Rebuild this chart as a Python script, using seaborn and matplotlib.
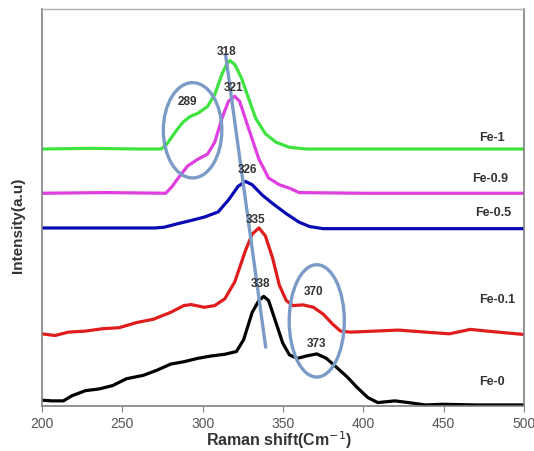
import matplotlib
matplotlib.use("Agg")
import matplotlib.pyplot as plt
from matplotlib.patches import Ellipse
import seaborn as sns
import pandas as pd

# ----------------------------------------------------------------------
# Raman spectra (intensity in arbitrary units,
# curves already stacked with their offsets)
# ----------------------------------------------------------------------
fe1_x = [200, 230, 260, 274, 277, 280, 284, 288, 292, 297, 303, 307.5, 312,
         315, 317, 320, 324, 328.5, 333, 339, 345.6, 354, 364.6, 400, 450, 500]
fe1_y = [755, 757, 755, 755, 765, 785, 812, 835, 850, 860, 880, 915, 975,
         1005, 1015, 1003, 965, 905, 845, 800, 775, 760, 755, 755, 755, 755]

fe09_x = [200, 240, 277, 281, 284, 290.6, 297, 303, 307.5, 312, 316, 320, 323,
          328.6, 335, 341, 347.7, 354, 360, 400, 450, 500]
fe09_y = [625, 627, 625, 645, 665, 705, 725, 740, 775, 845, 895, 910, 895,
          815, 725, 670, 650, 640, 627, 625, 625, 625]

fe05_x = [200, 240, 270, 275.8, 284, 292.7, 301, 309.6, 316, 322, 326.5,
          330.8, 337, 343.5, 352, 360, 366.7, 375, 420, 500]
fe05_y = [523, 523, 523, 525, 535, 545, 555, 570, 605, 645, 660,
          650, 620, 595, 565, 540, 527, 521, 521, 521]

fe01_x = [200, 208, 216.5, 227, 237.7, 248, 258.8, 269.4, 280, 288.3, 292.7,
          301, 307.5, 313.8, 320, 326.5, 330.8, 335, 339, 343.5, 347.7, 352,
          356, 362.5, 368.9, 375, 381, 385.8, 392, 407, 421.8, 438.7, 453.5,
          466.6, 477, 500]
fe01_y = [212, 207, 217, 220, 227, 230, 245, 255, 275, 295, 298,
          290, 295, 315, 365, 455, 505, 523, 500, 435, 355, 310,
          295, 297, 290, 270, 240, 220, 217, 220, 223, 217, 212,
          225, 220, 210]

fe0_x = [200, 206, 213.3, 218.6, 227, 235.5, 244, 252.5, 263, 271.5, 280,
         288.3, 297, 305.4, 313.8, 321, 325.5, 330.8, 335, 338, 341, 345.6,
         349.8, 354, 359, 364.6, 371, 377, 383, 390, 396, 402.7, 409, 419.6,
         428, 438.7, 449, 470, 500]
fe0_y = [17, 15, 15, 30, 45, 50, 60, 80, 90, 105, 123,
         130, 140, 147, 152, 160, 195, 275, 310, 322, 310, 245,
         185, 150, 140, 147, 153, 140, 115, 85, 55, 25, 10, 15,
         10, 3, 5, 3, 3]

series_names = ["Fe-1", "Fe-0.9", "Fe-0.5", "Fe-0.1", "Fe-0"]
series_colors = ["#3fe33f", "#de3fde", "#0a0ab4", "#df1d1d", "#000000"]
series_label_pos = [(480, 790), (479, 670), (481, 570), (483, 315), (480, 73)]

peak_labels = ["318", "321", "289", "326", "335", "338", "370", "373"]
peak_label_pos = [(315, 1043), (319, 937), (290.5, 895), (327.6, 695),
                  (333, 550), (336, 360), (369, 337), (371, 185)]

# guide line through the main peaks and the two highlighted regions
shift_line_x = [314.3, 339.2]
shift_line_y = [1030, 173]
ellipse_centers = [(293.7, 810), (371, 250)]
ellipse_sizes = [(36.4, 280), (34.3, 330)]

frames = []
for name, xs, ys in zip(series_names,
                        [fe1_x, fe09_x, fe05_x, fe01_x, fe0_x],
                        [fe1_y, fe09_y, fe05_y, fe01_y, fe0_y]):
    frames.append(pd.DataFrame({"shift": xs, "intensity": ys, "sample": name}))
df = pd.concat(frames, ignore_index=True)

# ----------------------------------------------------------------------
# Plot
# ----------------------------------------------------------------------
sns.set_style("white")
plt.rcParams["font.family"] = ["Liberation Sans", "DejaVu Sans"]

fig = plt.figure(figsize=(5.34, 4.52), dpi=100)
ax = fig.add_axes([0.0787, 0.0996, 0.9026, 0.878])

sns.lineplot(data=df, x="shift", y="intensity", hue="sample",
             hue_order=series_names, palette=series_colors,
             sort=False, estimator=None, linewidth=2.3, legend=False, ax=ax)

ax.plot(shift_line_x, shift_line_y, color="#7b9bc7", linewidth=2.4, zorder=5)
for (cx, cy), (w, h) in zip(ellipse_centers, ellipse_sizes):
    ax.add_patch(Ellipse((cx, cy), w, h, fill=False, edgecolor="#7b9bc7",
                         linewidth=2.4, zorder=5))

for txt, (px, py) in zip(peak_labels, peak_label_pos):
    ax.text(px, py, txt, ha="center", va="center", fontsize=8.5,
            fontweight="bold", color="#333333", zorder=6)

for txt, (px, py) in zip(series_names, series_label_pos):
    ax.text(px, py, txt, ha="center", va="center", fontsize=9,
            fontweight="bold", color="#333333")

ax.set_xlim(200, 500)
ax.set_ylim(0, 1166)
ax.set_xticks([200, 250, 300, 350, 400, 450, 500])
ax.set_yticks([])
ax.tick_params(axis="x", bottom=True, direction="out", length=4,
               color="#888888", labelsize=10, labelcolor="#555555", pad=3)
for side in ["left", "right", "bottom"]:
    ax.spines[side].set_color("#808080")
    ax.spines[side].set_linewidth(1.2)
ax.spines["top"].set_color("#b0b0b0")
ax.spines["top"].set_linewidth(1.0)

ax.set_xlabel("Raman shift(Cm$^{-1}$)", fontsize=11.5, fontweight="bold",
              color="#333333")
ax.set_ylabel("Intensity(a.u)", fontsize=11, fontweight="bold",
              color="#333333")
ax.xaxis.set_label_coords(0.493, -0.057)
ax.yaxis.set_label_coords(-0.035, 0.458)

plt.savefig("out.png", dpi=100)
